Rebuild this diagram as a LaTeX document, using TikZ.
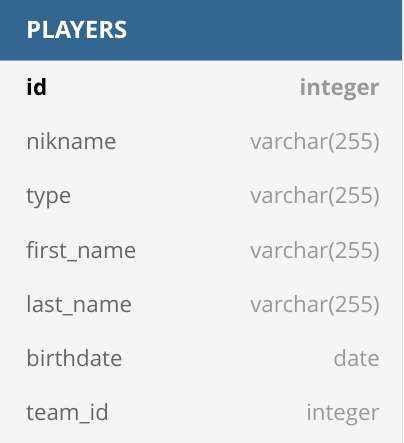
\documentclass[tikz,border=0pt]{standalone}
\usepackage{fontspec}
\setmainfont{Open Sans}
\definecolor{headblue}{HTML}{336791}
\definecolor{headline}{HTML}{8FAAC4}
\definecolor{rowbg}{HTML}{F5F5F5}
\definecolor{edgegray}{HTML}{DDDDDD}
\definecolor{namegray}{HTML}{666666}
\definecolor{typegray}{HTML}{999999}
\tikzset{
    fieldname/.style={anchor=base west, inner sep=0pt, text=namegray, font=\fontsize{22.3}{26}\selectfont},
    fieldtype/.style={anchor=base east, inner sep=0pt, text=typegray, font=\fontsize{22.3}{26}\selectfont}
}

\begin{document}
\begin{tikzpicture}[x=1pt,y=-1pt]
            \useasboundingbox (0,0) rectangle (403,443);
            \fill[rowbg] (0,0) rectangle (403,443);
            \fill[headblue] (0,0) rectangle (402,60);
            \draw[headline] (0,60.5) -- (402,60.5);
            \draw[edgegray] (402.5,0) -- (402.5,443);
            \node[anchor=base west, inner sep=0pt, text=white, font=\fontsize{24}{28}\selectfont\bfseries] (title) at (26,39) {PLAYERS};
            \node[fieldname, text=black, font=\fontsize{22.3}{26}\selectfont\bfseries] (name1) at (26,96) {id};
            \node[fieldtype, font=\fontsize{22.3}{26}\selectfont\bfseries] (type1) at (380,96) {integer};
            \foreach \name/\type [count=\i from 2] in {nikname/varchar(255), type/varchar(255), first\_name/varchar(255), last\_name/varchar(255), birthdate/date, team\_id/integer}{
                \node[fieldname] (name\i) at (26,{96+54*(\i-1)}) {\name};
                \node[fieldtype] (type\i) at (380,{96+54*(\i-1)}) {\type};
            }
        \end{tikzpicture}
\end{document}
